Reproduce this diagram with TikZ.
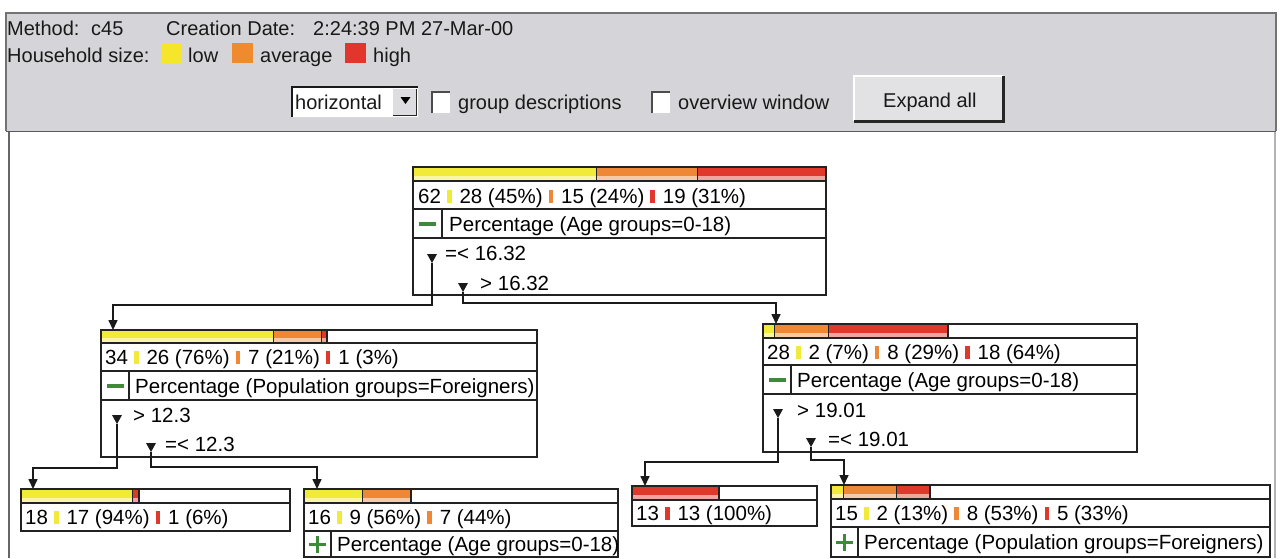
\documentclass[tikz,border=0pt]{standalone}
\usepackage{fontspec}
\setmainfont{Liberation Sans}
\usetikzlibrary{arrows.meta,calc}
\definecolor{panelgray}{HTML}{D5D5D9}
\definecolor{boxline}{HTML}{222222}
\definecolor{connline}{HTML}{1A1A1A}
\definecolor{cy}{HTML}{F2EA38}
\definecolor{co}{HTML}{EE8836}
\definecolor{cr}{HTML}{E0382A}
\definecolor{lgy}{HTML}{F5E62A}
\definecolor{lgo}{HTML}{F08A2E}
\definecolor{lgr}{HTML}{E2362C}
\definecolor{gmark}{HTML}{3C8A3A}
\newcommand\hfont{\fontsize{20}{24}\selectfont}
\newcommand\tfont{\fontsize{20.5}{24}\selectfont}
\newcommand\mk[1]{\hspace{6pt}{\color{#1}\rule[0pt]{4.5pt}{13.5pt}}\hspace{8pt}}
\newcommand\seg[5]{%
  \fill[#5] (#1,#3) rectangle (#2,#4);
  \fill[#5!45!white] (#1,#4-5) rectangle (#2,#4);
  \draw[boxline,line width=1.2pt] (#2,#3) -- (#2,#4);}
\newcommand\dmark[3]{%
  \coordinate (#1) at (#2,#3);
  \fill[connline] (#2-5,#3-9) -- (#2+5,#3-9) -- (#2,#3) -- cycle;}
\tikzset{
  hdr/.style={font=\hfont, anchor=base west, inner sep=0pt, text=black!90},
  txt/.style={font=\tfont, anchor=base west, inner sep=0pt, text=black},
  tbox/.style={draw=boxline, line width=1.5pt, fill=white, anchor=north west, inner sep=0pt, outer sep=0pt},
  tline/.style={draw=boxline, line width=1.5pt},
  conn/.style={draw=connline, line width=1.6pt},
  arr/.style={conn, -{Triangle[width=9pt,length=10pt]}},
  sq/.style={minimum width=21pt, minimum height=20pt, inner sep=0pt, anchor=north west},
  chk/.style={fill=white, minimum width=18pt, minimum height=21pt, inner sep=0pt, anchor=north west},
}
\begin{document}
\begin{tikzpicture}[x=1pt,y=-1pt]
\useasboundingbox (0,0) rectangle (1283,558);
\fill[white] (0,0) rectangle (1283,558);
% ---------- top panel ----------
\fill[panelgray] (6,13) rectangle (1276,131);
\draw[black!55, line width=1.2pt] (6,131) -- (6,13) -- (1276,13) -- (1276,131);
\draw[black!65, line width=1.6pt] (6,131.5) -- (1276,131.5);
% tree panel borders
\draw[black!60, line width=2pt] (9,132) -- (9,558);
\draw[black!30, line width=1.2pt] (1275,132) -- (1275,558);

\node[hdr] (method) at (7,35) {Method:};
\node[hdr] (c45) at (91,35) {c45};
\node[hdr] (cdate) at (166,35) {Creation Date:};
\node[hdr] (ctime) at (313,35) {2:24:39 PM 27-Mar-00};

\node[hdr] (hh) at (7,62) {Household size:};
\node[sq, fill=lgy] (sqlow) at (161,43) {};
\node[hdr] (low) at (188,62) {low};
\node[sq, fill=lgo] (sqavg) at (232,43) {};
\node[hdr] (avg) at (260,62) {average};
\node[sq, fill=lgr] (sqhigh) at (345,43) {};
\node[hdr] (high) at (373,62) {high};

% combo box
\node[fill=white, minimum width=126pt, minimum height=30pt, inner sep=0pt, anchor=north west] (combo) at (292,87) {};
\draw[black!90, line width=2pt] (combo.south west) -- (combo.north west) -- (combo.north east);
\draw[black!15, line width=1pt] (combo.north east) -- (combo.south east) -- (combo.south west);
\node[fill=panelgray!80!white, minimum width=23pt, minimum height=26pt, inner sep=0pt, anchor=north west] (drop) at (393,89) {};
\draw[black!85, line width=1.8pt] (drop.north east) -- (drop.south east) -- (drop.south west);
\fill[black] (400.5,97) -- (410.5,97) -- (405.5,104) -- cycle;
\node[hdr] (horiz) at (295,109) {horizontal};

% checkboxes
\node[chk] (cb1) at (432,92) {};
\draw[black!70, line width=1.4pt] (cb1.south west) -- (cb1.north west) -- (cb1.north east);
\node[hdr] (grp) at (458,109) {group descriptions};
\node[chk] (cb2) at (652,92) {};
\draw[black!70, line width=1.4pt] (cb2.south west) -- (cb2.north west) -- (cb2.north east);
\node[hdr] (ovw) at (678,109) {overview window};

% button
\node[fill=panelgray!70!white, minimum width=149pt, minimum height=45pt, inner sep=0pt, anchor=north west] (btn) at (854,76) {};
\draw[white, line width=1.5pt] (btn.south west) -- (btn.north west) -- (btn.north east);
\draw[black!85, line width=2.6pt] (btn.north east) -- (btn.south east) -- (btn.south west);
\node[hdr] (expand) at (883,107) {Expand all};

% ---------- root ----------
\node[tbox, minimum width=413pt, minimum height=128pt] (root) at (413,167) {};
\seg{413}{597}{167}{181}{cy}
\seg{597}{698}{167}{181}{co}
\seg{698}{826}{167}{181}{cr}
\draw[tline] (413,167) rectangle (826,295);
\draw[tline] (413,181) -- (826,181);
\draw[tline] (413,209) -- (826,209);
\draw[tline] (413,238) -- (826,238);
\draw[tline] (442,209) -- (442,238);
\fill[gmark] (419,222) rectangle (436,225.5);
\node[txt] (rootstat) at (418,203) {62\mk{cy}28 (45\%)\mk{co}15 (24\%)\mk{cr}19 (31\%)};
\node[txt] (roottest) at (449,231) {Percentage (Age groups=0-18)};
\node[txt] (rootb1) at (445,260) {=< 16.32};
\node[txt] (rootb2) at (480,290) {> 16.32};
\dmark{m1}{432}{263}
\dmark{m2}{463}{292}

% ---------- L ----------
\node[tbox, minimum width=436pt, minimum height=127pt] (L) at (101,330) {};
\seg{101}{274}{330}{343}{cy}
\seg{274}{322}{330}{343}{co}
\seg{322}{327}{330}{343}{cr}
\draw[tline] (101,330) rectangle (537,457);
\draw[tline] (101,343) -- (537,343);
\draw[tline] (101,371) -- (537,371);
\draw[tline] (101,400) -- (537,400);
\draw[tline] (129,371) -- (129,400);
\fill[gmark] (107,384) rectangle (124,387.5);
\node[txt] (Lstat) at (105,364) {34\mk{cy}26 (76\%)\mk{co}7 (21\%)\mk{cr}1 (3\%)};
\node[txt] (Ltest) at (135,393) {Percentage (Population groups=Foreigners)};
\node[txt] (Lb1) at (133,422) {> 12.3};
\node[txt] (Lb2) at (165,451) {=< 12.3};
\dmark{m3}{117}{424}
\dmark{m4}{151}{452}

% ---------- R ----------
\node[tbox, minimum width=374pt, minimum height=128pt] (R) at (763,324) {};
\seg{763}{775}{324}{338}{cy}
\seg{775}{829}{324}{338}{co}
\seg{829}{948}{324}{338}{cr}
\draw[tline] (763,324) rectangle (1137,452);
\draw[tline] (763,338) -- (1137,338);
\draw[tline] (763,365) -- (1137,365);
\draw[tline] (763,394) -- (1137,394);
\draw[tline] (791,365) -- (791,394);
\fill[gmark] (769,378) rectangle (786,381.5);
\node[txt] (Rstat) at (767,359) {28\mk{cy}2 (7\%)\mk{co}8 (29\%)\mk{cr}18 (64\%)};
\node[txt] (Rtest) at (797,387) {Percentage (Age groups=0-18)};
\node[txt] (Rb1) at (797,417) {> 19.01};
\node[txt] (Rb2) at (828,446) {=< 19.01};
\dmark{m5}{778}{418}
\dmark{m6}{811}{447}

% ---------- LL ----------
\node[tbox, minimum width=269pt, minimum height=42pt] (LL) at (21,489) {};
\seg{21}{133}{489}{503}{cy}
\seg{133}{139}{489}{503}{cr}
\draw[tline] (21,489) rectangle (290,531);
\draw[tline] (21,503) -- (290,503);
\node[txt] (LLstat) at (25,524) {18\mk{cy}17 (94\%)\mk{cr}1 (6\%)};

% ---------- LR ----------
\node[tbox, minimum width=314pt, minimum height=68pt] (LR) at (304,489) {};
\seg{304}{363}{489}{503}{cy}
\seg{363}{411}{489}{503}{co}
\draw[tline] (304,489) rectangle (618,557);
\draw[tline] (304,503) -- (618,503);
\draw[tline] (304,531) -- (618,531);
\draw[tline] (331,531) -- (331,557);
\fill[gmark] (309,542.5) rectangle (326,546);
\fill[gmark] (315.75,536) rectangle (319.25,552.5);
\node[txt] (LRstat) at (308,524) {16\mk{cy}9 (56\%)\mk{co}7 (44\%)};
\node[txt] (LRtest) at (337,551) {Percentage (Age groups=0-18)};

% ---------- RL ----------
\node[tbox, minimum width=185pt, minimum height=40pt] (RL) at (632,486) {};
\seg{632}{719}{486}{500}{cr}
\draw[tline] (632,486) rectangle (817,526);
\draw[tline] (632,500) -- (817,500);
\node[txt] (RLstat) at (636,520) {13\mk{cr}13 (100\%)};

% ---------- RR ----------
\node[tbox, minimum width=439pt, minimum height=72pt] (RR) at (831,485) {};
\seg{831}{844}{485}{499}{cy}
\seg{844}{897}{485}{499}{co}
\seg{897}{930}{485}{499}{cr}
\draw[tline] (831,485) rectangle (1270,557);
\draw[tline] (831,499) -- (1270,499);
\draw[tline] (831,527) -- (1270,527);
\draw[tline] (858,527) -- (858,557);
\fill[gmark] (836,540.5) rectangle (853,544);
\fill[gmark] (842.75,534) rectangle (846.25,550.5);
\node[txt] (RRstat) at (835,520) {15\mk{cy}2 (13\%)\mk{co}8 (53\%)\mk{cr}5 (33\%)};
\node[txt] (RRtest) at (864,549) {Percentage (Population groups=Foreigners)};

% ---------- connectors ----------
\coordinate (Lin) at (113,330);
\coordinate (Rin) at (776,324);
\coordinate (LLin) at (33,489);
\coordinate (LRin) at (317,489);
\coordinate (RLin) at (645,486);
\coordinate (RRin) at (844,485);
\draw[arr] (m1) -- (m1 |- 0,305) -| (Lin);
\draw[arr] (m2) -- (m2 |- 0,303) -| (Rin);
\draw[arr] (m3) -- (m3 |- 0,468) -| (LLin);
\draw[arr] (m4) -- (m4 |- 0,467) -| (LRin);
\draw[arr] (m5) -- (m5 |- 0,462) -| (RLin);
\draw[arr] (m6) -- (m6 |- 0,460) -| (RRin);
\end{tikzpicture}
\end{document}
